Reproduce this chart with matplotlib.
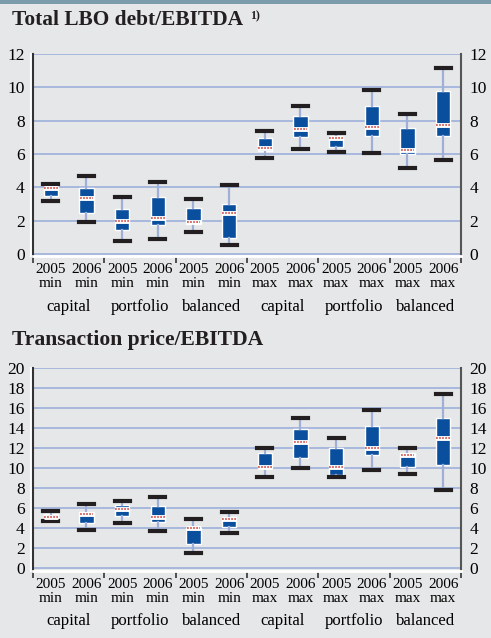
import numpy as np
import matplotlib
matplotlib.use('Agg')
import matplotlib.pyplot as plt
from matplotlib.patches import Rectangle
import matplotlib.transforms as mtrans

plt.rcParams['font.family'] = ['Liberation Serif', 'DejaVu Serif']

years = ['2005', '2006'] * 6
kinds = ['min'] * 6 + ['max'] * 6
groups = ['capital', 'portfolio', 'balanced', 'capital', 'portfolio', 'balanced']

# Total LBO debt/EBITDA
debt_lo  = [3.20, 1.93, 0.78, 0.88, 1.30, 0.54, 5.77, 6.32, 6.12, 6.06, 5.16, 5.64]
debt_q1  = [3.47, 2.44, 1.44, 1.74, 1.80, 0.94, 6.18, 7.02, 6.42, 7.05, 6.00, 7.05]
debt_med = [3.93, 3.33, 2.00, 2.14, 1.93, 2.44, 6.38, 7.47, 6.93, 7.63, 6.26, 7.75]
debt_q3  = [4.00, 3.93, 2.71, 3.43, 2.77, 2.99, 6.93, 8.25, 7.02, 8.85, 7.56, 9.75]
debt_hi  = [4.19, 4.69, 3.39, 4.29, 3.27, 4.13, 7.37, 8.90, 7.26, 9.85, 8.37, 11.15]

# Transaction price/EBITDA
price_lo  = [4.77, 3.87, 4.54, 3.70, 1.50, 3.54, 9.14, 10.07, 9.17, 9.83, 9.47, 7.87]
price_q1  = [4.84, 4.54, 5.20, 4.67, 2.44, 4.17, 10.00, 11.00, 9.33, 11.33, 10.17, 10.33]
price_med = [5.10, 5.44, 5.94, 5.10, 4.00, 4.94, 10.17, 12.67, 10.10, 12.07, 11.33, 13.07]
price_q3  = [5.44, 5.60, 6.37, 6.20, 4.04, 5.10, 11.57, 13.90, 12.00, 14.23, 11.50, 15.00]
price_hi  = [5.77, 6.44, 6.77, 7.10, 4.94, 5.67, 12.07, 15.00, 13.07, 15.83, 12.07, 17.43]

BG = '#e6e7e8'
BOX = '#0a4f9e'
GRID = '#a3b3dc'
WHISK = '#9fb0d8'

fig = plt.figure(figsize=(4.91, 6.38), dpi=100)
fig.patch.set_facecolor(BG)
fig.add_artist(Rectangle((0, 1 - 4/638.), 1, 4/638., transform=fig.transFigure,
                         facecolor='#7c9cab', edgecolor='none'))


def panel(rect, lo, q1, med, q3, hi, ymax):
    ax = fig.add_axes(rect)
    ax.set_facecolor(BG)
    pos = np.arange(1, 13)
    stats = [dict(whislo=a, q1=b, med=c, q3=d, whishi=e)
             for a, b, c, d, e in zip(lo, q1, med, q3, hi)]
    ax.bxp(stats, positions=pos, widths=0.4, capwidths=0.42, showfliers=False,
           patch_artist=True,
           boxprops=dict(facecolor=BOX, edgecolor='white', linewidth=1.0),
           whiskerprops=dict(color=WHISK, linewidth=1.6),
           capprops=dict(color='#231f20', linewidth=3),
           medianprops=dict(color='white', linewidth=3.5), zorder=3)
    ax.hlines(med, pos - 0.19, pos + 0.19, colors='#d0463f', linewidth=1.1,
              linestyles=(0, (1.2, 0.8)), zorder=4)

    ax.set_xlim(0.5, 12.5)
    ax.set_ylim(-ymax * 0.0125, ymax)
    ax.set_yticks(np.arange(0, ymax + 1, 2))
    ax.yaxis.grid(True, color=GRID, linewidth=1.3)
    ax.set_axisbelow(True)
    ax.tick_params(axis='y', length=0, labelsize=12.5, left=True, right=True,
                   labelleft=True, labelright=True, pad=6)

    ax.set_xticks(np.arange(0.5, 13, 2))
    ax.set_xticklabels([])
    ax.tick_params(axis='x', which='major', length=5, width=1.2, color='#333333')
    ax.set_xticks(pos, [y + '\n' + k for y, k in zip(years, kinds)], minor=True)
    ax.tick_params(axis='x', which='minor', length=0, labelsize=11, pad=5)
    for t in ax.get_xticklabels(minor=True):
        t.set_linespacing(1.1)

    trans = mtrans.blended_transform_factory(ax.transData, ax.transAxes)
    for i, g in enumerate(groups):
        ax.text(2 * i + 1.5, -0.25, g, transform=trans, ha='center', va='center',
                fontsize=12)

    ax.spines['top'].set_visible(False)
    ax.spines['bottom'].set_color('white')
    ax.spines['bottom'].set_linewidth(2)
    ax.spines['left'].set_color('#333333')
    ax.spines['left'].set_linewidth(1.5)
    ax.spines['right'].set_color('#555555')
    ax.spines['right'].set_linewidth(1.5)
    ax.plot([-0.005, -0.005], [0, 1], transform=ax.transAxes, clip_on=False,
            color='white', linewidth=1.5)
    return ax


ax1 = panel([0.0672, 0.598, 0.8717, 0.3174], debt_lo, debt_q1, debt_med, debt_q3, debt_hi, 12)
ax2 = panel([0.0672, 0.1055, 0.8717, 0.3172], price_lo, price_q1, price_med, price_q3, price_hi, 20)

fig.text(12/491., 1 - 20/638., 'Total LBO debt/EBITDA', fontsize=15.4,
         fontweight='bold', va='center', ha='left', color='#231f20')
fig.text(250/491., 1 - 16/638., '1)', fontsize=8.5,
         fontweight='bold', va='center', ha='left', color='#231f20')
fig.text(12/491., 1 - 340/638., 'Transaction price/EBITDA', fontsize=15.6,
         fontweight='bold', va='center', ha='left', color='#231f20')

plt.savefig('out.png', dpi=100, facecolor=BG)
